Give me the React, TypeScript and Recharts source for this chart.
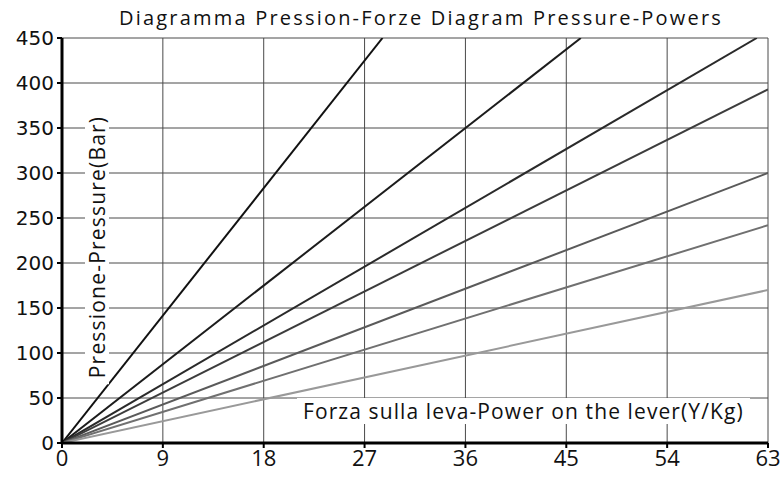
import { LineChart, Line, XAxis, YAxis, CartesianGrid } from 'recharts'

const xTicks = [0, 9, 18, 27, 36, 45, 54, 63]
const yTicks = [0, 50, 100, 150, 200, 250, 300, 350, 400, 450]

// each line starts at the origin and ends where it leaves the grid
const endForce = [28.6, 46.3, 62, 63, 63, 63, 63]
const endPressure = [450, 450, 450, 393, 300, 242, 170]
const lineColors = ['#111', '#1c1c1c', '#2a2a2a', '#3c3c3c', '#5a5a5a', '#707070', '#999']

const series = endForce.map((f, i) => ({
  key: 'l' + i,
  color: lineColors[i],
  data: [
    { x: 0, y: 0 },
    { x: f, y: endPressure[i] },
  ],
}))

const font = '"Open Sans", "DejaVu Sans", sans-serif'

export default function App() {
  return (
    <div style={{ position: 'absolute', left: 0, top: 0, width: 781, height: 478, background: '#fff', fontFamily: font }}>
      <div
        style={{
          position: 'absolute',
          top: 4,
          left: 0,
          width: 842,
          textAlign: 'center',
          fontSize: 20,
          letterSpacing: 2.2,
          color: '#111',
        }}
      >
        Diagramma Pression-Forze Diagram Pressure-Powers
      </div>
      <LineChart
        width={781}
        height={478}
        margin={{ top: 38, right: 13, bottom: 0, left: 0 }}
        style={{ fontFamily: font }}
      >
        <CartesianGrid stroke="#4a4a4a" strokeWidth={1} horizontalValues={yTicks} verticalValues={xTicks} />
        <XAxis
          type="number"
          dataKey="x"
          domain={[0, 63]}
          ticks={xTicks}
          interval={0}
          height={35}
          axisLine={{ stroke: '#000', strokeWidth: 3 }}
          tickLine={{ stroke: '#000', strokeWidth: 2 }}
          tickSize={5}
          tickMargin={2}
          tick={{ fill: '#111', fontSize: 22 }}
          allowDataOverflow
        />
        <YAxis
          type="number"
          dataKey="y"
          domain={[0, 450]}
          ticks={yTicks}
          interval={0}
          width={62}
          axisLine={{ stroke: '#000', strokeWidth: 3 }}
          tickLine={{ stroke: '#000', strokeWidth: 2 }}
          tickSize={5}
          tickMargin={3}
          tick={{ fill: '#111', fontSize: 20, fontFamily: '"DejaVu Sans", sans-serif' }}
          allowDataOverflow
        />
        {series.map((s) => (
          <Line
            key={s.key}
            data={s.data}
            dataKey="y"
            type="linear"
            stroke={s.color}
            strokeWidth={2}
            dot={false}
            isAnimationActive={false}
          />
        ))}
      </LineChart>
      <div
        style={{
          position: 'absolute',
          left: 97,
          top: 247,
          transform: 'translate(-50%, -50%) rotate(-90deg)',
          whiteSpace: 'nowrap',
          fontSize: 21,
          letterSpacing: 1.2,
          color: '#111',
          background: '#fff',
          padding: '0 6px',
          lineHeight: '24px',
        }}
      >
        Pressione-Pressure(Bar)
      </div>
      <div
        style={{
          position: 'absolute',
          left: 297,
          top: 398,
          whiteSpace: 'nowrap',
          fontSize: 21,
          letterSpacing: 1.1,
          color: '#111',
          background: '#fff',
          padding: '0 6px',
          lineHeight: '26px',
        }}
      >
        Forza sulla leva-Power on the lever(Y/Kg)
      </div>
    </div>
  )
}
